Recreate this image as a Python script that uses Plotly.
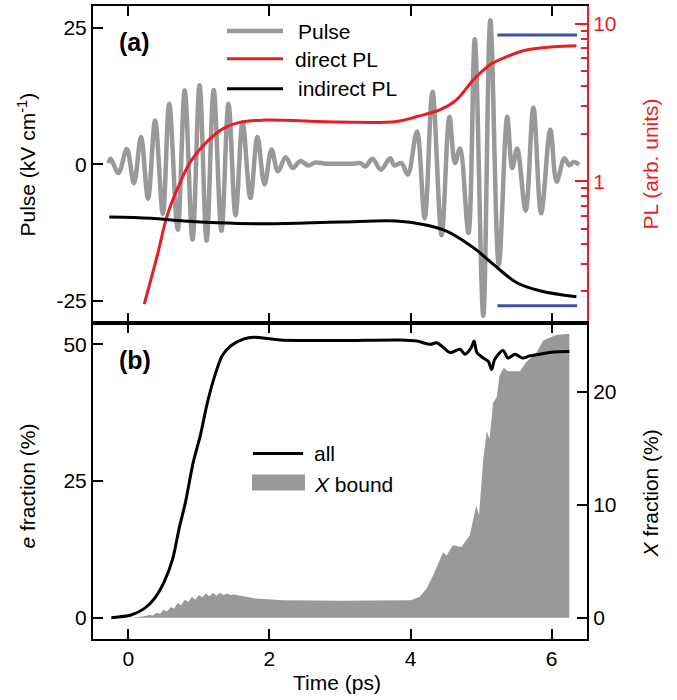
import plotly.graph_objects as go

# ---- panel (a): THz pulse and photoluminescence ----
pulse_t = [-0.28, -0.25, -0.14, -0.02, 0.08, 0.18, 0.28, 0.38, 0.49, 0.58, 0.70, 0.80, 0.91, 1.01,
           1.11, 1.21, 1.32, 1.42, 1.52, 1.62, 1.73, 1.83, 1.93, 2.03, 2.12, 2.23, 2.33, 2.44, 2.55,
           2.65, 2.80, 3.00, 3.20, 3.29, 3.36, 3.46, 3.58, 3.71, 3.77, 3.87, 3.96, 4.09, 4.20, 4.31,
           4.44, 4.55, 4.63, 4.70, 4.82, 4.91, 5.03, 5.13, 5.25, 5.37, 5.44, 5.51, 5.63, 5.74, 5.85,
           5.98, 6.07, 6.18, 6.25, 6.31, 6.39]
pulse_kv = [0.2, 1.0, -1.6, 2.8, -3.5, 5.0, -6.3, 8.0, -9.1, 11.1, -12.0, 13.5, -13.8, 14.5,
            -14.0, 13.6, -12.2, 11.1, -9.4, 7.7, -6.2, 5.0, -3.7, 2.7, -1.3, 1.3, -0.7, 0.6, -0.25,
            0.3, 0.1, 0.1, 0.1, 0.2, -0.4, 1.0, -1.0, 1.1, -0.2, 0.2, -1.9, 6.0, -9.9, 13.3,
            -13.0, 8.7, 0.2, 2.9, -12.6, 22.9, -27.8, 26.4, -18.4, 8.7, -0.7, 2.9, -8.5, 10.4, -9.0,
            6.3, -3.2, 1.1, -0.2, 0.4, -0.1]

direct_t = [0.226, 0.415, 0.556, 0.744, 0.886, 1.12, 1.356, 1.59, 1.92, 3.0, 3.80, 4.09, 4.42,
            4.65, 4.89, 5.12, 5.36, 5.64, 6.02, 6.35]
direct_pl = [0.166, 0.344, 0.616, 1.0, 1.34, 1.79, 2.17, 2.37, 2.44, 2.37, 2.39, 2.57, 2.84,
             3.28, 4.39, 5.46, 6.16, 6.79, 7.12, 7.23]

indirect_t = [-0.27, 0.32, 0.79, 1.26, 1.97, 3.0, 3.80, 4.18, 4.51, 4.89, 5.17, 5.50, 5.83, 6.35]
indirect_pl = [0.594, 0.583, 0.559, 0.545, 0.537, 0.551, 0.559, 0.532, 0.483, 0.379, 0.298, 0.228,
               0.202, 0.185]

level_t = [5.23, 6.36]
level_pl = [8.45, 0.162]

# ---- panel (b): electron fractions ----
all_t = [-0.24, 0.04, 0.23, 0.37, 0.51, 0.63, 0.72, 0.81, 0.92, 1.02, 1.12, 1.21, 1.33, 1.45, 1.64,
         1.78, 2.16, 3.0, 3.85, 4.09, 4.28, 4.37, 4.44, 4.56, 4.70, 4.77, 4.86, 4.90, 4.94, 5.03,
         5.10, 5.15, 5.19, 5.31, 5.38, 5.48, 5.59, 5.69, 5.83, 6.02, 6.25]
all_frac = [0, 0.5, 1.7, 3.5, 6.6, 10.8, 16.3, 21.1, 28.4, 33.3, 39.3, 43.6, 47.9, 49.7, 51.0,
            51.3, 50.8, 50.7, 50.8, 50.6, 50.0, 50.3, 49.7, 48.5, 49.1, 48.2, 49.4, 50.6, 48.5, 47.5,
            46.9, 45.4, 47.2, 48.9, 47.5, 48.2, 47.5, 47.9, 48.2, 48.6, 48.7]

bound_t = [0.04, 0.2, 0.3, 0.35, 0.4, 0.45, 0.5, 0.55, 0.6, 0.65, 0.7, 0.75, 0.8, 0.85, 0.9, 0.95,
           1.0, 1.05, 1.1, 1.15, 1.2, 1.25, 1.3, 1.35, 1.4, 1.45, 1.5, 1.6, 1.8, 2.2, 3.0, 4.0, 4.13,
           4.23, 4.32, 4.46, 4.51, 4.60, 4.72, 4.84, 4.93, 4.97, 5.03, 5.08, 5.12, 5.17, 5.22, 5.26,
           5.32, 5.38, 5.55, 5.64, 5.78, 5.88, 6.06, 6.25]
bound_frac = [0, 0.1, 0.25, 0.2, 0.45, 0.35, 0.7, 0.55, 0.95, 0.8, 1.3, 1.1, 1.6, 1.4, 1.85, 1.6,
              2.0, 1.8, 2.15, 1.9, 2.2, 1.95, 2.2, 2.0, 2.15, 2.0, 2.05, 1.95, 1.7, 1.55, 1.5, 1.55,
              1.85, 2.6, 3.76, 5.8, 5.5, 6.4, 6.25, 7.3, 9.9, 9.05, 14.0, 16.5, 15.8, 19.0, 19.5,
              21.4, 22.1, 21.8, 21.8, 22.6, 23.4, 24.5, 25.0, 25.1]

GRAY = '#999999'
RED = '#ed1c24'
BLUE = '#3953a4'
FONT = 'Liberation Sans, Arial, Helvetica, sans-serif'

# plot area in pixels: x 93..587, y 4..639
L, R, T, B = 93, 587, 4, 639


def px(x):
    return (x - L) / (R - L)


def py(y):
    return (B - y) / (B - T)


fig = go.Figure()

fig.add_trace(go.Scatter(x=pulse_t, y=pulse_kv, name='Pulse', mode='lines',
                         line=dict(color=GRAY, width=4.5, shape='spline'), xaxis='x', yaxis='y'))
fig.add_trace(go.Scatter(x=direct_t, y=direct_pl, name='direct PL', mode='lines',
                         line=dict(color=RED, width=3, shape='spline'), xaxis='x', yaxis='y2'))
fig.add_trace(go.Scatter(x=indirect_t, y=indirect_pl, name='indirect PL', mode='lines',
                         line=dict(color='black', width=3, shape='spline'), xaxis='x', yaxis='y2'))
for lev in level_pl:
    fig.add_trace(go.Scatter(x=level_t, y=[lev, lev], mode='lines',
                             line=dict(color=BLUE, width=3), xaxis='x', yaxis='y2'))

fig.add_trace(go.Scatter(x=bound_t, y=bound_frac, name='X bound', mode='lines', fill='tozeroy',
                         fillcolor=GRAY, line=dict(width=0, color=GRAY), xaxis='x2', yaxis='y3'))
fig.add_trace(go.Scatter(x=all_t, y=all_frac, name='all', mode='lines',
                         line=dict(color='black', width=3, shape='spline', smoothing=0.8),
                         xaxis='x2', yaxis='y4'))

axis_common = dict(showgrid=False, zeroline=False, showline=True, linewidth=2, linecolor='black',
                   ticks='inside', ticklen=10, tickwidth=2, tickcolor='black',
                   tickfont=dict(size=21, color='black'))

fig.update_layout(
    width=677, height=700,
    margin=dict(l=L, r=677 - R, t=T, b=700 - B),
    paper_bgcolor='white', plot_bgcolor='white',
    font=dict(family=FONT, size=21, color='black'),
    showlegend=False,
    xaxis=dict(axis_common, domain=[0, 1], anchor='y', range=[-0.5, 6.5], tickvals=[0, 2, 4, 6],
               showticklabels=False, mirror='ticks'),
    yaxis=dict(axis_common, domain=[0.5, 1], anchor='x', range=[-29, 29], tickvals=[-25, 0, 25],
               ticktext=['-25', '0', '25'], side='left'),
    yaxis2=dict(axis_common, overlaying='y', anchor='x', side='right', type='log',
                range=[-0.896, 1.111], tickvals=[1, 10], ticktext=['1', '10'], ticklen=12,
                linecolor=RED, tickcolor=RED, tickfont=dict(size=21, color=RED),
                minor=dict(ticks='inside', ticklen=6, tickwidth=2, tickcolor=RED,
                           tickvals=[0.2, 0.3, 0.4, 0.5, 0.6, 0.7, 0.8, 0.9,
                                     2, 3, 4, 5, 6, 7, 8, 9])),
    xaxis2=dict(axis_common, domain=[0, 1], anchor='y3', range=[-0.5, 6.5], tickvals=[0, 2, 4, 6],
                mirror='ticks'),
    yaxis3=dict(axis_common, domain=[0, 0.5], anchor='x2', side='right', range=[-1.88, 26.1],
                tickvals=[0, 10, 20]),
    yaxis4=dict(axis_common, overlaying='y3', anchor='x2', side='left', range=[-3.9, 54],
                tickvals=[0, 25, 50]),
)

ann = [
    dict(x=px(27), y=py(163), text='Pulse (kV cm<sup>-1</sup>)', textangle=-90),
    dict(x=px(650), y=py(163), text='PL (arb. units)', textangle=-90, font=dict(color=RED)),
    dict(x=px(27), y=py(486), text='<i>e</i> fraction (%)', textangle=-90),
    dict(x=px(650), y=py(493), text='<i>X</i> fraction (%)', textangle=-90),
    dict(x=px(337), y=py(683), text='Time (ps)'),
    dict(x=px(134), y=py(40), text='<b>(a)</b>', font=dict(size=25)),
    dict(x=px(135), y=py(359), text='<b>(b)</b>', font=dict(size=25)),
    dict(x=px(296), y=py(30), text='Pulse', xanchor='left'),
    dict(x=px(293), y=py(58), text='direct PL', xanchor='left'),
    dict(x=px(296), y=py(87), text='indirect PL', xanchor='left'),
    dict(x=px(312), y=py(453), text='all', xanchor='left'),
    dict(x=px(312), y=py(484), text='<i>X</i> bound', xanchor='left'),
]
for a in ann:
    a.setdefault('xanchor', 'center')
    a.update(xref='paper', yref='paper', yanchor='middle', showarrow=False)
fig.update_layout(annotations=ann)

shapes = [
    dict(type='line', x0=px(227), x1=px(283), y0=py(29), y1=py(29), line=dict(color=GRAY, width=4.5)),
    dict(type='line', x0=px(227), x1=px(283), y0=py(57), y1=py(57), line=dict(color=RED, width=3)),
    dict(type='line', x0=px(227), x1=px(283), y0=py(87), y1=py(87), line=dict(color='black', width=3)),
    dict(type='line', x0=px(253), x1=px(303), y0=py(453), y1=py(453), line=dict(color='black', width=3)),
    dict(type='rect', x0=px(252), x1=px(305), y0=py(474), y1=py(490), line=dict(width=0),
         fillcolor=GRAY),
]
for s in shapes:
    s.update(xref='paper', yref='paper')
fig.update_layout(shapes=shapes)

# the page body has an 8px default margin; drop it so the figure sits at the corner
fig.write_html("out.html", config={'displayModeBar': False},
               post_script="document.body.style.margin = '0';")
